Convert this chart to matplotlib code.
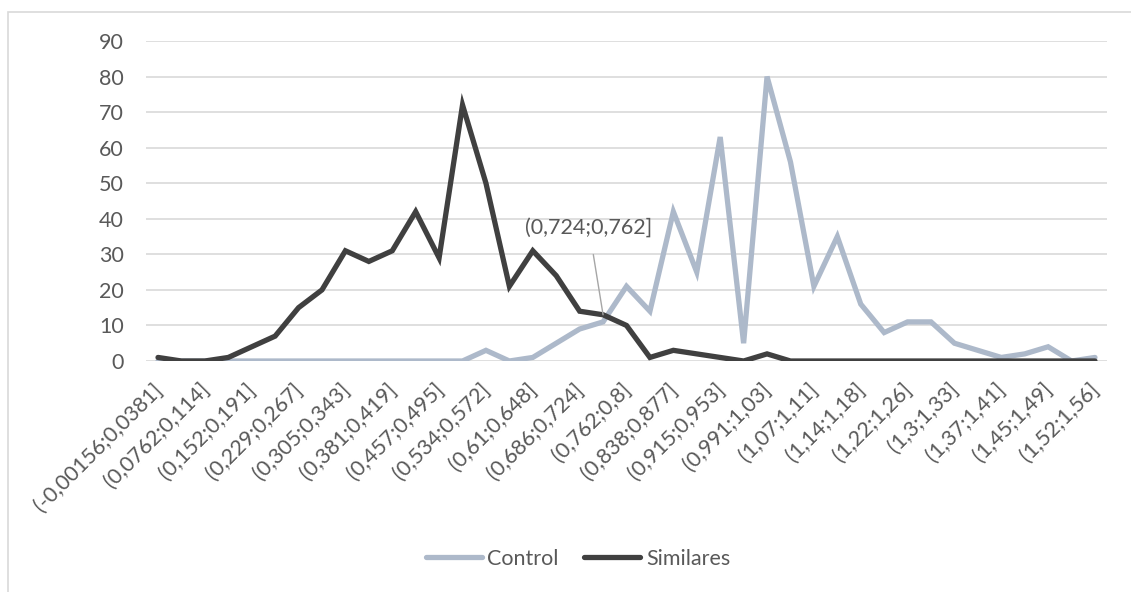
import matplotlib
matplotlib.use("Agg")
import matplotlib.pyplot as plt
import matplotlib.transforms as mtransforms
from matplotlib.patches import Rectangle

bins = ["(-0,00156;0,0381]", "(0,0381;0,0762]", "(0,0762;0,114]", "(0,114;0,152]",
        "(0,152;0,191]", "(0,191;0,229]", "(0,229;0,267]", "(0,267;0,305]",
        "(0,305;0,343]", "(0,343;0,381]", "(0,381;0,419]", "(0,419;0,457]",
        "(0,457;0,495]", "(0,495;0,534]", "(0,534;0,572]", "(0,572;0,61]",
        "(0,61;0,648]", "(0,648;0,686]", "(0,686;0,724]", "(0,724;0,762]",
        "(0,762;0,8]", "(0,8;0,838]", "(0,838;0,877]", "(0,877;0,915]",
        "(0,915;0,953]", "(0,953;0,991]", "(0,991;1,03]", "(1,03;1,07]",
        "(1,07;1,11]", "(1,11;1,14]", "(1,14;1,18]", "(1,18;1,22]",
        "(1,22;1,26]", "(1,26;1,3]", "(1,3;1,33]", "(1,33;1,37]",
        "(1,37;1,41]", "(1,41;1,45]", "(1,45;1,49]", "(1,49;1,52]",
        "(1,52;1,56]"]

control = [0, 0, 0, 0, 0, 0, 0, 0, 0, 0, 0, 0, 0, 0, 3, 0, 1, 5, 9, 11,
           21, 14, 42, 25, 63, 5, 80, 56, 21, 35, 16, 8, 11, 11, 5, 3,
           1, 2, 4, 0, 1]
similares = [1, 0, 0, 1, 4, 7, 15, 20, 31, 28, 31, 42, 29, 72, 50, 21, 31, 24, 14, 13,
             10, 1, 3, 2, 1, 0, 2, 0, 0, 0, 0, 0, 0, 0, 0, 0,
             0, 0, 0, 0, 0]

label_idx = 19

plt.rcParams['font.family'] = ['Lato', 'DejaVu Sans']
txt_color = '#595959'
fs = 15.5

fig = plt.figure(figsize=(11.31, 5.92), dpi=100)
ax = fig.add_axes([146.3 / 1131, 1 - 361 / 592, (1106.7 - 146.3) / 1131, 320 / 592])

x = list(range(len(bins)))
ax.plot(x, control, color='#ADB9CA', lw=3.8, solid_joinstyle='miter', solid_capstyle='round',
        label='Control', zorder=3)
ax.plot(x, similares, color='#404040', lw=3.8, solid_joinstyle='miter', solid_capstyle='round',
        label='Similares', zorder=4)

ax.set_xlim(-0.5, len(bins) - 0.5)
ax.set_ylim(0, 90)
ax.set_yticks(range(0, 91, 10))
ax.grid(axis='y', color='#D9D9D9', lw=1.2, zorder=0)
ax.set_axisbelow(True)
for s in ax.spines.values():
    s.set_visible(False)

ax.set_xticks(x[::2])
ax.set_xticklabels(bins[::2], rotation=45, ha='right', rotation_mode='anchor')
ax.tick_params(axis='both', length=0, labelsize=fs, colors=txt_color)
ax.tick_params(axis='x', pad=13)
ax.tick_params(axis='y', pad=16)
shift = mtransforms.ScaledTranslation(-6 / 100, 0, fig.dpi_scale_trans)
for lab in ax.get_xticklabels():
    lab.set_transform(lab.get_transform() + shift)

# data label with leader line
ax.annotate(bins[label_idx], xy=(label_idx, similares[label_idx]),
            xytext=(label_idx - 0.6, 37.4), textcoords='data',
            ha='center', va='center', fontsize=fs, color=txt_color,
            arrowprops=dict(arrowstyle='-', color='#A6A6A6', lw=1,
                            shrinkA=10, shrinkB=0), zorder=6)

leg = fig.legend(loc='center', bbox_to_anchor=(578 / 1131, 1 - 559 / 592), ncol=2,
                 frameon=False, fontsize=fs, handlelength=2.6, handletextpad=0.25,
                 columnspacing=1.2)
for t in leg.get_texts():
    t.set_color(txt_color)

# chart area border
fig.patches.append(Rectangle((7.5 / 1131, -0.1), 1.2, 1 - 11.5 / 592 + 0.1,
                             transform=fig.transFigure, fill=False,
                             edgecolor='#D9D9D9', lw=1.2))

fig.savefig('out.png', dpi=100)
